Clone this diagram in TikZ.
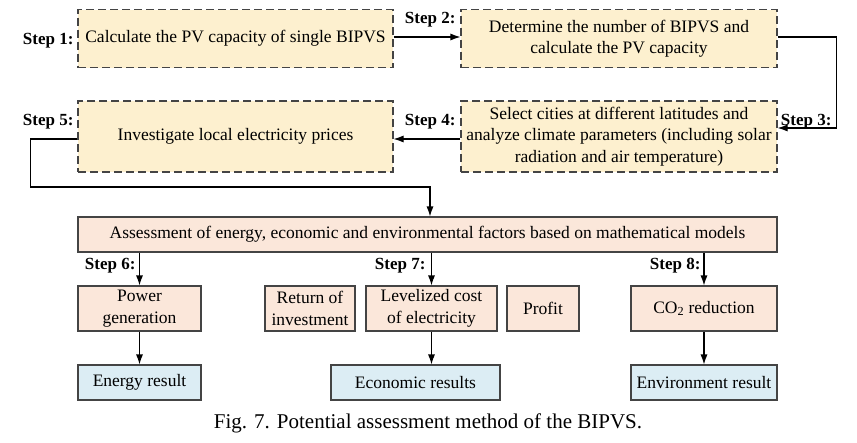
\documentclass[tikz,border=0pt]{standalone}
\usepackage{fontspec}
\setmainfont{Liberation Serif}
\usetikzlibrary{arrows.meta,positioning}
\definecolor{stepyellow}{HTML}{FDF0CF}
\definecolor{evalpink}{HTML}{FBE7DA}
\definecolor{resultblue}{HTML}{DCEDF4}
\definecolor{edgegray}{HTML}{444444}
\tikzstyle{stepbox} = [rectangle, draw=edgegray, fill=stepyellow, dash pattern=on 8pt off 4pt,
    align=center, inner sep=0pt, minimum width=315pt]
\tikzstyle{evalbox} = [rectangle, draw=edgegray, fill=evalpink, align=center,
    inner sep=0pt, minimum height=45pt]
\tikzstyle{resbox} = [rectangle, draw=edgegray, fill=resultblue, align=center,
    inner sep=0pt, minimum height=35pt]
\tikzstyle{steplbl} = [font=\fontsize{17}{21}\selectfont\bfseries, inner sep=0pt, anchor=east]

\begin{document}
\begin{tikzpicture}[x=1pt,y=-1pt,>={Latex[length=10pt,width=7pt]},line width=1.1pt,
                    font=\fontsize{17.5}{21.5}\selectfont]
  \useasboundingbox (0,0) rectangle (857,442);

  % first two rows (dashed)
  \node[stepbox,minimum height=58pt] (s1) at (235.5,38.5) {Calculate the PV capacity of single BIPVS};
  \node[stepbox,minimum height=58pt,minimum width=316pt] (s2) at (619,38.5)
       {Determine the number of BIPVS and\\calculate the PV capacity};
  \node[stepbox,minimum height=71pt,minimum width=316pt] (s4) at (619,136.5)
       {Select cities at different latitudes and\\analyze climate parameters (including solar\\radiation and air temperature)};
  \node[stepbox,minimum height=71pt] (s5) at (235.5,136.5) {Investigate local electricity prices};

  % assessment
  \node[evalbox,minimum height=35pt,minimum width=699pt] (ass) at (427.5,234.5)
       {Assessment of energy, economic and environmental factors based on mathematical models};
  \node[evalbox,minimum width=123pt] (pg)  at (139.5,308.5) {Power\\generation};
  \node[evalbox,minimum width=90pt]  (roi) at (310,308.5)   {Return of\\investment};
  \node[evalbox,minimum width=131pt] (lc)  at (431.5,308.5) {Levelized cost\\of electricity};
  \node[evalbox,minimum width=72pt]  (pf)  at (543,308.5)   {Profit};
  \node[evalbox,minimum width=146pt] (co)  at (704,308.5)   {CO\textsubscript{2} reduction};

  % results
  \node[resbox,minimum width=123pt] (er)  at (139.5,382.5) {Energy result};
  \node[resbox,minimum width=169pt] (ecr) at (415.5,382.5) {Economic results};
  \node[resbox,minimum width=146pt] (evr) at (704,382.5)   {Environment result};

  \node[font=\fontsize{21}{25}\selectfont] (cap) at (428,423) {Fig. 7. Potential assessment method of the BIPVS.};

  % step labels
  \node[steplbl] (l1) at (74,41)   {Step 1:};
  \node[steplbl] (l2) at (456,20)  {Step 2:};
  \node[steplbl] (l3) at (832,122) {Step 3:};
  \node[steplbl] (l4) at (456,122) {Step 4:};
  \node[steplbl] (l5) at (74,122)  {Step 5:};
  \node[steplbl] (l6) at (136,266) {Step 6:};
  \node[steplbl] (l7) at (426,266) {Step 7:};
  \node[steplbl] (l8) at (701,266) {Step 8:};

  \coordinate (bend) at (430,187);

  \draw[->] ([yshift=1.5pt]s1.east) -- ([yshift=1.5pt]s2.west);
  \draw[->] ([yshift=1.5pt]s2.east) -- ++(59,0) |- ([yshift=8.5pt]s4.east);
  \draw[->] ([yshift=-2.5pt]s4.west) -- ([yshift=-2.5pt]s5.east);
  \draw[->] ([yshift=-2.5pt]s5.west) -- ++(-47,0) |- (bend) -- (bend |- ass.north);
  \draw[->] (pg.north |- ass.south) -- (pg.north);
  \draw[->] (lc.north |- ass.south) -- (lc.north);
  \draw[->] (co.north |- ass.south) -- (co.north);
  \draw[->] (pg) -- (er);
  \draw[->] (lc.south) -- (lc.south |- ecr.north);
  \draw[->] (co) -- (evr);
\end{tikzpicture}
\end{document}
